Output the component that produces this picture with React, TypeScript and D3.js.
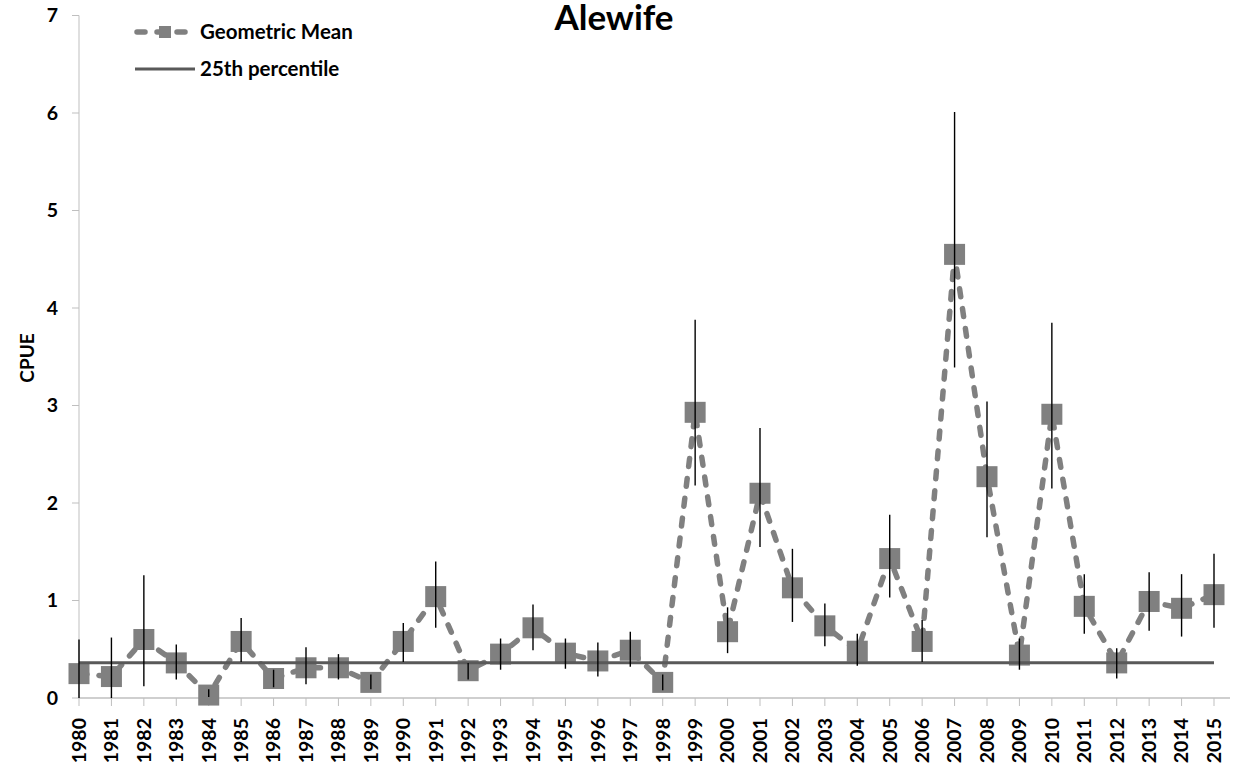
import React from "react";
import * as d3 from "d3";

const years = ["1980","1981","1982","1983","1984","1985","1986","1987","1988","1989","1990","1991","1992","1993","1994","1995","1996","1997","1998","1999","2000","2001","2002","2003","2004","2005","2006","2007","2008","2009","2010","2011","2012","2013","2014","2015"];
const geoMean = [0.25,0.22,0.60,0.36,0.03,0.58,0.20,0.31,0.31,0.16,0.58,1.04,0.28,0.45,0.72,0.46,0.38,0.49,0.16,2.93,0.68,2.10,1.13,0.74,0.48,1.43,0.58,4.55,2.27,0.44,2.91,0.94,0.36,0.99,0.92,1.06];
const upper = [0.60,0.62,1.26,0.55,0.09,0.82,0.29,0.52,0.45,0.24,0.77,1.40,0.36,0.61,0.96,0.61,0.57,0.68,0.24,3.88,0.93,2.77,1.53,0.97,0.66,1.88,0.80,6.01,3.04,0.61,3.85,1.27,0.51,1.29,1.27,1.48];
const lower = [0.00,0.00,0.12,0.19,0.01,0.37,0.11,0.14,0.19,0.09,0.37,0.72,0.19,0.29,0.49,0.30,0.22,0.32,0.08,2.18,0.46,1.55,0.78,0.53,0.33,1.03,0.37,3.39,1.65,0.29,2.15,0.66,0.20,0.69,0.63,0.72];
const percentile25 = 0.362;
const yTicks = [0,1,2,3,4,5,6,7];

const FONT = "Lato, 'Open Sans', sans-serif";

export default function App() {
  const x = d3.scalePoint<string>().domain(years).range([79, 1214]).padding(0);
  const y = d3.scaleLinear().domain([0, 7]).range([698, 15.5]);
  const line = d3.line<number>().x((_, i) => x(years[i])!).y(d => y(d));
  const ms = 21;
  return (
    <svg width={1234} height={768} style={{ position: "absolute", left: 0, top: 0, background: "#fff" }}>
      {/* axes */}
      <line x1={79} x2={79} y1={y(7)} y2={y(0)} stroke="#bfbfbf" strokeWidth={1} />
      <line x1={79} x2={1230} y1={y(0)} y2={y(0)} stroke="#bfbfbf" strokeWidth={1.5} />
      {yTicks.map(t => (
        <g key={t}>
          <line x1={72} x2={79} y1={y(t)} y2={y(t)} stroke="#bfbfbf" />
          <text x={58} y={y(t)} dy="0.35em" textAnchor="end" fontFamily={FONT} fontWeight="bold" fontSize={19.5} fill="#000">{t}</text>
        </g>
      ))}
      {years.map(yr => (
        <g key={yr}>
          <line x1={x(yr)} x2={x(yr)} y1={698} y2={706} stroke="#bfbfbf" />
          <text transform={`translate(${x(yr)},718) rotate(-90)`} dy="0.35em" textAnchor="end" fontFamily={FONT} fontWeight="bold" fontSize={19.5} fill="#000">{yr}</text>
        </g>
      ))}
      <text transform={`translate(27,358) rotate(-90)`} dy="0.35em" textAnchor="middle" fontFamily={FONT} fontWeight="bold" fontSize={19} fill="#000">CPUE</text>
      <text x={614} y={30} textAnchor="middle" fontFamily={FONT} fontWeight="bold" fontSize={35} fill="#000">Alewife</text>

      {/* geometric mean */}
      <path d={line(geoMean)!} fill="none" stroke="#808080" strokeWidth={5.5} strokeDasharray="8,12" strokeLinecap="round" />
      {geoMean.map((v, i) => (
        <rect key={i} x={x(years[i])! - ms / 2} y={y(v) - ms / 2} width={ms} height={ms} fill="#808080" />
      ))}
      {/* 25th percentile */}
      <line x1={x(years[0])} x2={x(years[years.length - 1])} y1={y(percentile25)} y2={y(percentile25)} stroke="#595959" strokeWidth={3} />
      {/* error bars */}
      {geoMean.map((v, i) => (
        <line key={i} x1={x(years[i])} x2={x(years[i])} y1={y(upper[i])} y2={y(lower[i])} stroke="#000" strokeWidth={1.4} />
      ))}

      {/* legend */}
      <line x1={137} x2={193} y1={32} y2={32} stroke="#808080" strokeWidth={5.5} strokeDasharray="8,12" strokeLinecap="round" />
      <rect x={159} y={26} width={12} height={12} fill="#808080" />
      <text x={200} y={32} dy="0.35em" fontFamily={FONT} fontWeight="bold" fontSize={20.5} fill="#000">Geometric Mean</text>
      <line x1={135} x2={195} y1={69} y2={69} stroke="#595959" strokeWidth={3} />
      <text x={200} y={69} dy="0.35em" fontFamily={FONT} fontWeight="bold" fontSize={20.5} fill="#000">25th percentile</text>
    </svg>
  );
}
